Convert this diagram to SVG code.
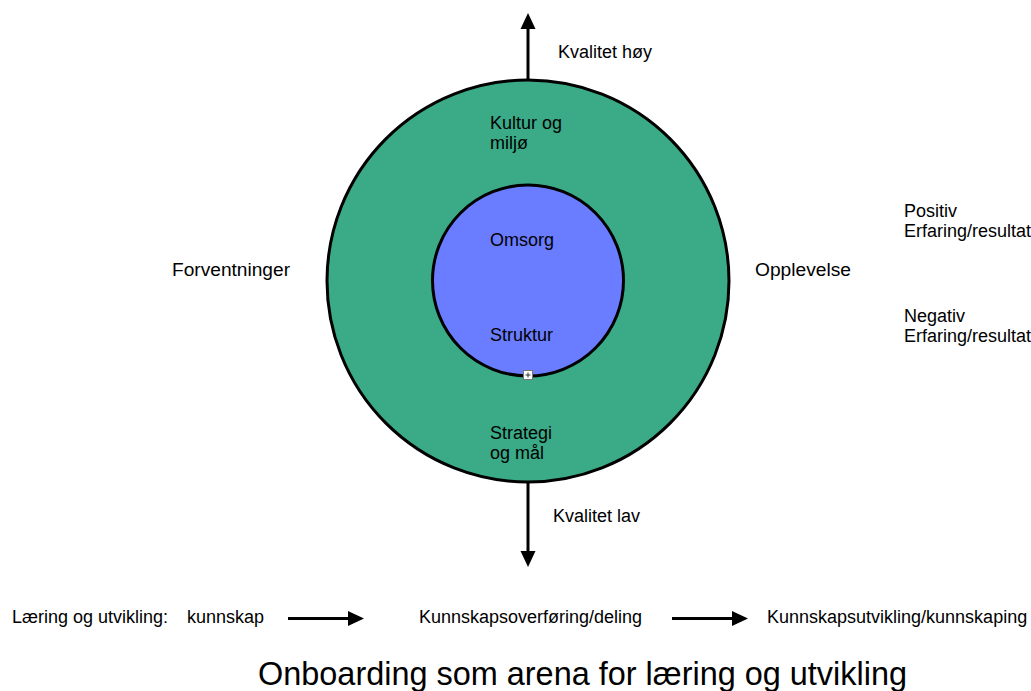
<svg xmlns="http://www.w3.org/2000/svg" width="1031" height="691" viewBox="0 0 1031 691">
<style>
text{font-family:"Liberation Sans",Arial,Helvetica,sans-serif;font-size:18px;fill:#000}
.title{font-size:32.5px}
.ln{stroke:#000;stroke-width:3;fill:none}
.hd{fill:#000}
</style>
<rect width="1031" height="691" fill="#fff"/>
<g id="outer-circle">
<circle cx="528" cy="281" r="201" fill="#3AAA87" stroke="#000" stroke-width="3"/>
<text x="490" y="129">Kultur og</text>
<text x="490" y="149">miljø</text>
<text x="490" y="439">Strategi</text>
<text x="490" y="459">og mål</text>
</g>
<g id="inner-circle">
<circle cx="528" cy="280.5" r="95.5" fill="#6A7CFF" stroke="#000" stroke-width="3"/>
<text x="490" y="246">Omsorg</text>
<text x="490" y="341">Struktur</text>
<g id="handle">
<rect x="523.5" y="370.5" width="9" height="9" fill="#fff" stroke="#777" stroke-width="1"/>
<path d="M528 372.5v5M525.5 375h5" stroke="#333" stroke-width="1"/>
</g>
</g>
<g id="connectors">
<line class="ln" x1="528" y1="80" x2="528" y2="27"/>
<polygon class="hd" points="528,13 520.5,29 535.5,29"/>
<line class="ln" x1="528" y1="482" x2="528" y2="552"/>
<polygon class="hd" points="528,567 520.5,551 535.5,551"/>
<line class="ln" x1="288" y1="618.5" x2="350" y2="618.5"/>
<polygon class="hd" points="364,618.5 348,611 348,626"/>
<line class="ln" x1="672" y1="618.5" x2="734" y2="618.5"/>
<polygon class="hd" points="748,618.5 732,611 732,626"/>
</g>
<g id="labels">
<text x="558" y="58">Kvalitet høy</text>
<text x="553" y="522">Kvalitet lav</text>
<text x="172" y="276" textLength="118" lengthAdjust="spacingAndGlyphs">Forventninger</text>
<text x="755" y="276" textLength="96" lengthAdjust="spacingAndGlyphs">Opplevelse</text>
<text x="904" y="217">Positiv</text>
<text x="904" y="237">Erfaring/resultat</text>
<text x="904" y="322">Negativ</text>
<text x="904" y="342">Erfaring/resultat</text>
<text x="12" y="623">Læring og utvikling:</text>
<text x="187" y="623">kunnskap</text>
<text x="419" y="623">Kunnskapsoverføring/deling</text>
<text x="767" y="623">Kunnskapsutvikling/kunnskaping</text>
<text class="title" x="258" y="685" textLength="649" lengthAdjust="spacingAndGlyphs">Onboarding som arena for læring og utvikling</text>
</g>
</svg>
